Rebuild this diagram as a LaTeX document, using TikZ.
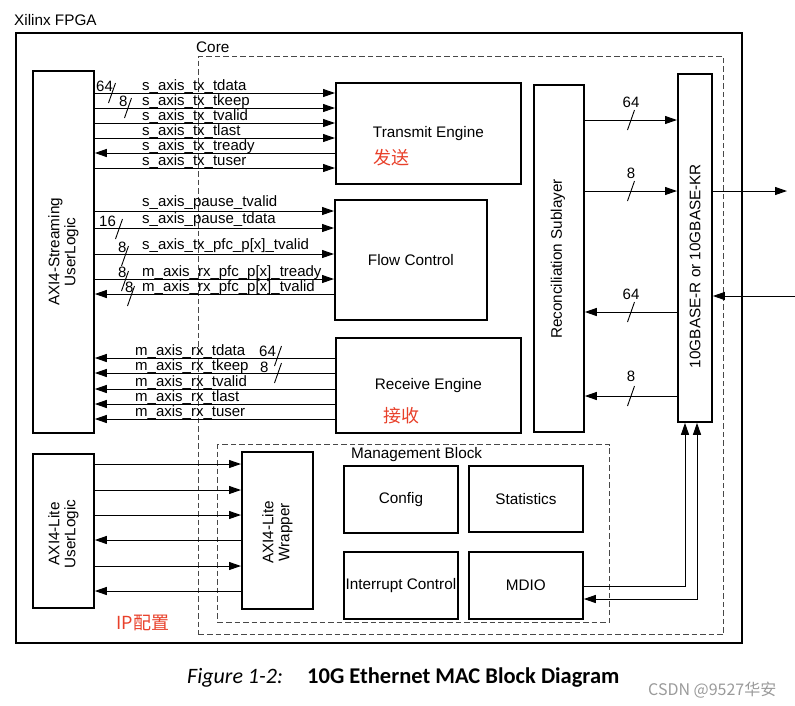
\documentclass[tikz,border=0pt]{standalone}
\usepackage{fontspec}
\setmainfont{Liberation Sans}
\newfontfamily\cjk{Noto Sans CJK SC}
\newfontfamily\capfont{Carlito}
\usetikzlibrary{arrows.meta}
\definecolor{redtxt}{HTML}{E8402A}
\definecolor{dashgray}{HTML}{484848}
\definecolor{wmgray}{HTML}{9A9A9A}
\newcommand\wslash[2]{\draw[line width=0.9pt] (#1-3.5,#2+10) -- (#1+3.5,#2-10);}
\begin{document}
\begin{tikzpicture}[x=1pt,y=-1pt,
  box/.style={draw,line width=1.8pt,inner sep=0pt,anchor=north west,font=\fontsize{15.3}{17}\selectfont},
  dbox/.style={draw=dashgray,line width=1.1pt,dash pattern=on 5.5pt off 3pt,inner sep=0pt,anchor=north west},
  sig/.style={line width=1pt,-{Triangle[length=12pt,width=8pt]}},
  sigl/.style={line width=1pt,{Triangle[length=12pt,width=8pt]}-},
  sigb/.style={line width=1pt,{Triangle[length=12pt,width=8pt]}-{Triangle[length=12pt,width=8pt]}},
  lbl/.style={font=\fontsize{15}{16}\selectfont,inner sep=0pt,anchor=base west},
  num/.style={font=\fontsize{15}{16}\selectfont,inner sep=0pt,anchor=base west},
  numc/.style={font=\fontsize{15}{16}\selectfont,inner sep=0pt,anchor=base},
  vtxt/.style={rotate=90,align=center,font=\fontsize{15.3}{16}\selectfont,inner sep=0pt},
  redcn/.style={text=redtxt,font=\cjk\fontsize{18}{20}\selectfont,inner sep=0pt}
]
\useasboundingbox (0,0) rectangle (795,705);

% outer boxes
\node[lbl,font=\fontsize{15.3}{17}\selectfont] (fpgalbl) at (14,25) {Xilinx FPGA};
\node[box,minimum width=726pt,minimum height=610pt] (fpga) at (15,32) {};
\node[dbox,minimum width=525pt,minimum height=578pt] (core) at (198,56) {};
\node[lbl,font=\fontsize{15.3}{17}\selectfont] (corelbl) at (196,52) {Core};

% user logic
\node[box,minimum width=61pt,minimum height=362pt] (sul) at (32,70) {};
\node[vtxt] (sultxt) at (sul.center) {AXI4-Streaming\\UserLogic};
\node[box,minimum width=61pt,minimum height=154pt] (lul) at (32,453) {};
\node[vtxt] (lultxt) at ([yshift=-3pt]lul.center) {AXI4-Lite\\UserLogic};

% engines
\node[box,minimum width=185pt,minimum height=101pt] (tx) at (335,82) {Transmit Engine};
\node[redcn] (txcn) at (391,158) {发送};
\node[box,minimum width=152pt,minimum height=120pt] (fc) at (334,199) {Flow Control};
\node[box,minimum width=185pt,minimum height=95pt] (rx) at (335,337) {Receive Engine};
\node[redcn] (rxcn) at (401,416) {接收};

\node[box,minimum width=50pt,minimum height=347pt] (rs) at (533,84) {};
\node[vtxt] (rstxt) at (558,259) {Reconciliation Sublayer};
\node[box,minimum width=34pt,minimum height=348pt] (phy) at (677,73) {};
\node[vtxt] (phytxt) at (695,266) {10GBASE-R or 10GBASE-KR};

% management
\node[dbox,minimum width=392pt,minimum height=178pt] (mgmt) at (217,444) {};
\node[lbl,font=\fontsize{15.3}{17}\selectfont] (mgmtlbl) at (351,458) {Management Block};
\node[box,minimum width=71pt,minimum height=157pt] (wrap) at (241,451) {};
\node[vtxt] (wraptxt) at ([yshift=-2pt]wrap.center) {AXI4-Lite\\Wrapper};
\node[box,minimum width=114pt,minimum height=67pt] (cfg) at (343,465) {Config};
\node[box,minimum width=114pt,minimum height=66pt] (stat) at (468,465) {Statistics};
\node[box,minimum width=114pt,minimum height=67pt] (intc) at (343,551) {Interrupt Control};
\node[box,minimum width=114pt,minimum height=67pt] (mdio) at (468,551) {MDIO};
\node[redcn] (ipcn) at (143,623) {IP配置};

% TX signals
\foreach \y in {93,108,123,138,168} \draw[sig] (sul.east |- 0,\y) -- (tx.west |- 0,\y);
\draw[sigl] (sul.east |- 0,153) -- (tx.west |- 0,153);
\node[lbl] at (142,90.5) {s\_axis\_tx\_tdata};
\node[lbl] at (142,105.5) {s\_axis\_tx\_tkeep};
\node[lbl] at (142,120.5) {s\_axis\_tx\_tvalid};
\node[lbl] at (142,135.5) {s\_axis\_tx\_tlast};
\node[lbl] at (142,150.5) {s\_axis\_tx\_tready};
\node[lbl] at (142,165.5) {s\_axis\_tx\_tuser};
\node[num] at (96,91) {64};
\wslash{112}{93}
\node[num] at (119,106) {8};
\wslash{128}{108}

% flow control signals
\foreach \y in {211,228,254,279} \draw[sig] (sul.east |- 0,\y) -- (fc.west |- 0,\y);
\draw[sigl] (sul.east |- 0,294) -- (fc.west |- 0,294);
\node[lbl] at (142,206) {s\_axis\_pause\_tvalid};
\node[lbl] at (142,223) {s\_axis\_pause\_tdata};
\node[lbl] at (142,249) {s\_axis\_tx\_pfc\_p[x]\_tvalid};
\node[lbl] at (142,276) {m\_axis\_rx\_pfc\_p[x]\_tready};
\node[lbl] at (142,291) {m\_axis\_rx\_pfc\_p[x]\_tvalid};
\node[num] at (99,226) {16};
\wslash{119}{229}
\node[num] at (118,252) {8};
\wslash{125}{256}
\node[num] at (118,277) {8};
\wslash{125}{281}
\node[num] at (125,292) {8};
\wslash{131}{296}

% RX signals
\foreach \y in {358,373,389,404,419} \draw[sigl] (sul.east |- 0,\y) -- (rx.west |- 0,\y);
\node[lbl] at (135,355) {m\_axis\_rx\_tdata};
\node[lbl] at (135,370) {m\_axis\_rx\_tkeep};
\node[lbl] at (135,386) {m\_axis\_rx\_tvalid};
\node[lbl] at (135,401) {m\_axis\_rx\_tlast};
\node[lbl] at (135,416) {m\_axis\_rx\_tuser};
\node[num] at (259,356) {64};
\wslash{278}{356}
\node[num] at (260,372) {8};
\wslash{278}{373}

% RS <-> PHY
\draw[sig] (rs.east |- 0,120) -- (phy.west |- 0,120);
\draw[sig] (rs.east |- 0,191) -- (phy.west |- 0,191);
\draw[sig] (phy.west |- 0,312) -- (rs.east |- 0,312);
\draw[sig] (phy.west |- 0,396) -- (rs.east |- 0,396);
\node[numc] at (631,107) {64};
\wslash{631}{120}
\node[numc] at (631,178) {8};
\wslash{631}{191}
\node[numc] at (631,299) {64};
\wslash{631}{312}
\node[numc] at (631,381) {8};
\wslash{631}{396}

% external
\coordinate (outend) at (787,191);
\coordinate (inbeg) at (795,296);
\draw[sig] (phy.east |- 0,191) -- (outend);
\draw[sig] (inbeg) -- (phy.east |- 0,296);

% MDIO
\draw[sig] (mdio.east |- 0,586) -| (phy.south -| 685,0);
\draw[sigb] (mdio.east |- 0,599) -| (phy.south -| 697,0);

% AXI4-Lite
\foreach \y in {464,490,515,566} \draw[sig] (lul.east |- 0,\y) -- (wrap.west |- 0,\y);
\foreach \y in {540,591} \draw[sigl] (lul.east |- 0,\y) -- (wrap.west |- 0,\y);

% caption
\node[inner sep=0pt,anchor=base west,font=\capfont\itshape\fontsize{22}{24}\selectfont] (figno) at (187,683) {Figure 1-2:};
\node[inner sep=0pt,anchor=base west,font=\capfont\bfseries\fontsize{22.5}{24}\selectfont] (figtitle) at (307,683) {10G Ethernet MAC Block Diagram};
\node[inner sep=0pt,anchor=base west,text=wmgray,font=\cjk\fontsize{16}{18}\selectfont] (wm) at (648,695) {CSDN @9527华安};
\end{tikzpicture}
\end{document}
